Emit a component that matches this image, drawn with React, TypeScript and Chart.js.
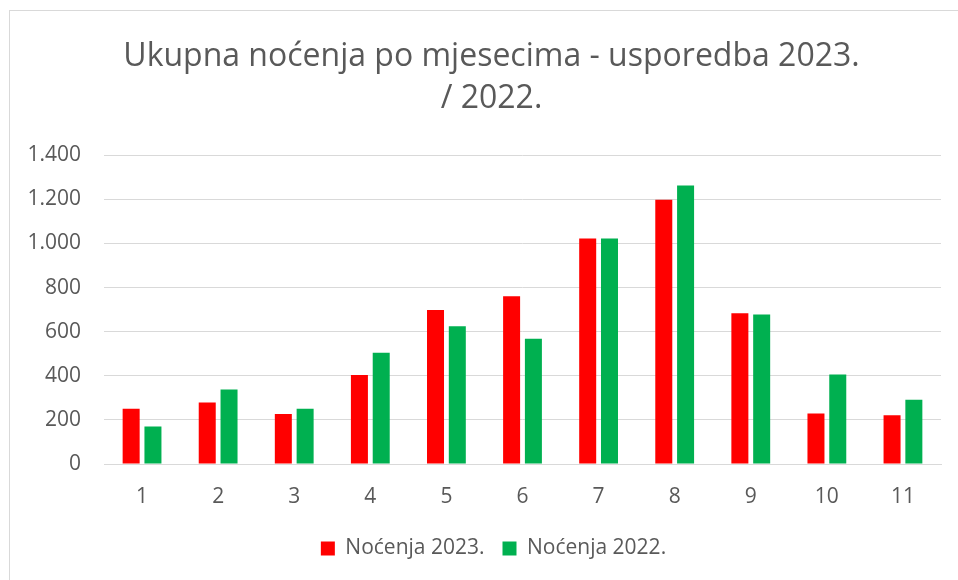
import React, { useEffect, useRef } from "react";
import { Chart, registerables } from "chart.js";

Chart.register(...registerables);

const months = ["1", "2", "3", "4", "5", "6", "7", "8", "9", "10", "11"];
const nocenja2023 = [250, 279, 227, 404, 698, 760, 1022, 1198, 683, 229, 221];
const nocenja2022 = [170, 338, 250, 504, 625, 568, 1022, 1263, 678, 406, 291];
const yTicks = [0, 200, 400, 600, 800, 1000, 1200, 1400];
const titleLines = ["Ukupna noćenja po mjesecima - usporedba 2023.", "/ 2022."];
const seriesNames = ["Noćenja 2023.", "Noćenja 2022."];

const fmt = (v: number) => String(v).replace(/\B(?=(\d{3})+(?!\d))/g, ".");

const frame = {
  id: "frame",
  afterLayout(chart: any) {
    const t = chart.titleBlock;
    if (t) {
      t.left += 16;
      t.right += 16;
    }
    const l = chart.legend;
    if (l) {
      l.left += 18;
      l.right += 18;
    }
  },
  beforeDraw(chart: any) {
    const ctx = chart.ctx;
    ctx.save();
    ctx.fillStyle = "#ffffff";
    ctx.fillRect(0, 0, chart.width, chart.height);
    ctx.strokeStyle = "#d9d9d9";
    ctx.lineWidth = 1;
    ctx.strokeRect(9.5, 10.5, 1200, 1200);
    ctx.restore();
  },
};

export default function App() {
  const ref = useRef<HTMLCanvasElement>(null);
  useEffect(() => {
    if (!ref.current) return;
    const chart = new Chart(ref.current, {
      type: "bar",
      data: {
        labels: months,
        datasets: [
          {
            label: seriesNames[0],
            data: nocenja2023,
            backgroundColor: "#FF0000",
            categoryPercentage: 0.573,
            barPercentage: 0.78,
          },
          {
            label: seriesNames[1],
            data: nocenja2022,
            backgroundColor: "#00B050",
            categoryPercentage: 0.573,
            barPercentage: 0.78,
          },
        ],
      },
      options: {
        responsive: false,
        animation: false,
        layout: { padding: { left: 10, right: 17, top: 0, bottom: 11 } },
        plugins: {
          title: {
            display: true,
            text: titleLines,
            color: "#595959",
            font: { family: "'Open Sans'", size: 32, weight: "normal", lineHeight: 1.3 },
            padding: { top: 36, bottom: 36 },
          },
          legend: {
            position: "bottom",
            labels: {
              color: "#595959",
              font: { family: "'Open Sans'", size: 21 },
              boxWidth: 14,
              boxHeight: 14,
              padding: 18,
            },
          },
          tooltip: { enabled: false },
        },
        scales: {
          x: {
            afterFit: (scale: any) => {
              scale.height = 56;
            },
            grid: { display: false, drawTicks: false },
            border: { display: true, color: "#d9d9d9", width: 1 },
            ticks: {
              color: "#595959",
              font: { family: "'Open Sans'", size: 21 },
              padding: 20,
            },
          },
          y: {
            min: 0,
            max: 1400,
            afterBuildTicks: (scale: any) => {
              scale.ticks = yTicks.map((v) => ({ value: v }));
            },
            afterFit: (scale: any) => {
              scale.width = 94;
            },
            grid: { color: "#d9d9d9", lineWidth: 1, drawTicks: false },
            border: { display: false },
            ticks: {
              color: "#595959",
              font: { family: "'Open Sans'", size: 21 },
              padding: 23,
              callback: (v: any) => fmt(Number(v)),
            },
          },
        },
      },
      plugins: [frame],
    } as any);
    return () => chart.destroy();
  }, []);
  return (
    <div style={{ position: "fixed", left: 0, top: 0, width: 958, height: 580, background: "#fff" }}>
      <canvas ref={ref} width={958} height={580} style={{ display: "block" }} />
    </div>
  );
}
